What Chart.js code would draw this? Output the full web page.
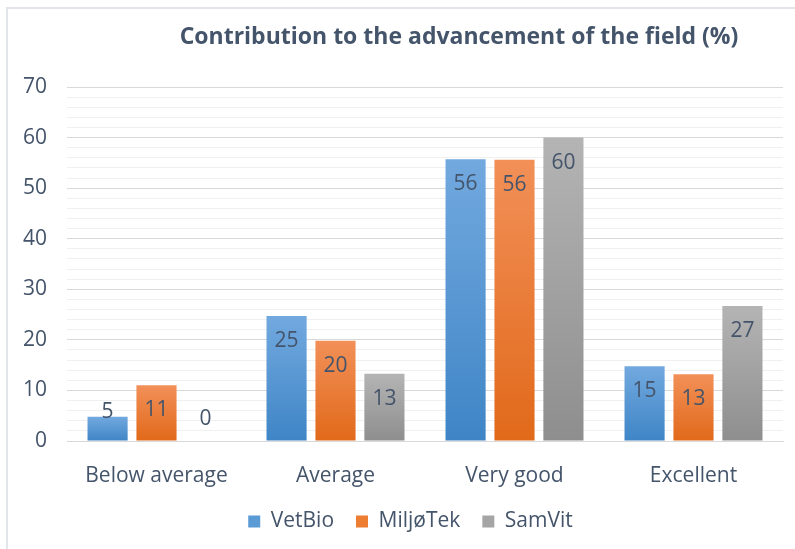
<!DOCTYPE html>
<html lang="en">
<head>
<meta charset="UTF-8">
<title>Contribution to the advancement of the field</title>
<script src="https://cdn.jsdelivr.net/npm/chart.js@4.4.0/dist/chart.umd.min.js"></script>
<style>
  body { margin: 0; background: #fff; }
  #wrap { position: relative; width: 795px; height: 549px; }
  .edge { position: absolute; background: #e2e6ea; }
</style>
</head>
<body>
<div id="wrap">
  <canvas id="chart" width="795" height="549"></canvas>
  <div class="edge" style="left:6px; top:7px; width:2px; height:542px;"></div>
  <div class="edge" style="left:6px; top:7px; width:789px; height:2px;"></div>
</div>

<script>
// data
const categories = ['Below average', 'Average', 'Very good', 'Excellent'];
const vetBio   = [4.8, 24.7, 55.7, 14.8];
const miljoTek = [11.0, 19.8, 55.6, 13.2];
const samVit   = [0, 13.3, 60.0, 26.7];
const yTicks = [0, 10, 20, 30, 40, 50, 60, 70];

const textColor = '#44546a';
const fontFamily = '"Open Sans", "Noto Sans", sans-serif';

// top -> bottom gradient stops for each series
const shades = {
    VetBio:   ['#72a9df', '#3f85c6'],
    'MiljøTek': ['#f29058', '#e1691a'],
    SamVit:   ['#b4b4b4', '#8e8e8e']
};

function barGradient(name) {
    return function(c) {
        const chart = c.chart;
        if (!chart.chartArea || !chart.scales.y || c.type !== 'data') return shades[name][0];
        const y = chart.scales.y;
        const top = y.getPixelForValue(c.raw);
        const base = y.getPixelForValue(0);
        if (base - top < 1) return shades[name][1];
        const g = chart.ctx.createLinearGradient(0, top, 0, base);
        g.addColorStop(0, shades[name][0]);
        g.addColorStop(1, shades[name][1]);
        return g;
    };
}

// value labels inside the top of each bar
const valueLabels = {
    id: 'valueLabels',
    afterDatasetsDraw(chart) {
        const ctx = chart.ctx;
        const base = chart.scales.y.getPixelForValue(0);
        ctx.save();
        ctx.font = '21px ' + fontFamily;
        ctx.fillStyle = textColor;
        ctx.textAlign = 'center';
        ctx.textBaseline = 'middle';
        chart.data.datasets.forEach((ds, i) => {
            chart.getDatasetMeta(i).data.forEach((bar, j) => {
                const v = ds.data[j];
                let y = v === 0 ? base - 22 : Math.min(bar.y + 25, base - 29);
                ctx.fillText(Math.round(v), bar.x, y);
            });
        });
        ctx.restore();
    }
};

// title sits a bit right of the plot centre, as in the original
const offsetTitle = {
    id: 'offsetTitle',
    afterDraw(chart) {
        const ctx = chart.ctx;
        const a = chart.chartArea;
        ctx.save();
        ctx.font = 'bold 23px "Open Sans", sans-serif';
        ctx.fillStyle = textColor;
        ctx.textAlign = 'center';
        ctx.textBaseline = 'alphabetic';
        ctx.fillText('Contribution to the advancement of the field (%)', (a.left + a.right) / 2 + 34, 44);
        ctx.restore();
    }
};

// the legend in the original is centred a little right of the canvas centre
const legendShift = {
    id: 'legendShift',
    afterLayout(chart) {
        if (chart.legend) chart.legend.left += 38;
    }
};

new Chart(document.getElementById('chart'), {
    type: 'bar',
    data: {
        labels: categories,
        datasets: [
            { label: 'VetBio', data: vetBio, backgroundColor: barGradient('VetBio') },
            { label: 'MiljøTek', data: miljoTek, backgroundColor: barGradient('MiljøTek') },
            { label: 'SamVit', data: samVit, backgroundColor: barGradient('SamVit') }
        ]
    },
    options: {
        responsive: false,
        animation: false,
        layout: { padding: { top: 87, right: 12, left: 0, bottom: 7 } },
        datasets: {
            bar: { categoryPercentage: 0.82, barPercentage: 0.82 }
        },
        scales: {
            x: {
                afterFit(scale) { scale.height = 48; },
                grid: { display: false, drawTicks: false },
                border: { color: '#d9d9d9' },
                ticks: { color: textColor, font: { family: fontFamily, size: 21 }, padding: 22 }
            },
            y: {
                min: 0,
                max: 70,
                afterFit(scale) { scale.width = 67; },
                border: { display: false },
                grid: {
                    drawTicks: false,
                    color(c) {
                        return c.tick && yTicks.includes(c.tick.value) ? '#d9d9d9' : '#f0f0f0';
                    }
                },
                ticks: {
                    stepSize: 2,
                    autoSkip: false,
                    padding: 20,
                    color: textColor,
                    font: { family: fontFamily, size: 21 },
                    callback(v) { return yTicks.includes(v) ? String(v) : ''; }
                }
            }
        },
        plugins: {
            legend: {
                position: 'bottom',
                labels: {
                    color: textColor,
                    font: { family: fontFamily, size: 21 },
                    boxWidth: 12,
                    boxHeight: 12,
                    padding: 22,
                    generateLabels(chart) {
                        return chart.data.datasets.map((ds, i) => ({
                            text: ds.label,
                            fillStyle: ['#5b9bd5', '#ed7d31', '#a5a5a5'][i],
                            strokeStyle: ['#5b9bd5', '#ed7d31', '#a5a5a5'][i],
                            lineWidth: 0,
                            fontColor: textColor,
                            datasetIndex: i
                        }));
                    }
                }
            },
            title: { display: false },
            tooltip: { enabled: false }
        }
    },
    plugins: [valueLabels, offsetTitle, legendShift]
});
</script>
</body>
</html>
